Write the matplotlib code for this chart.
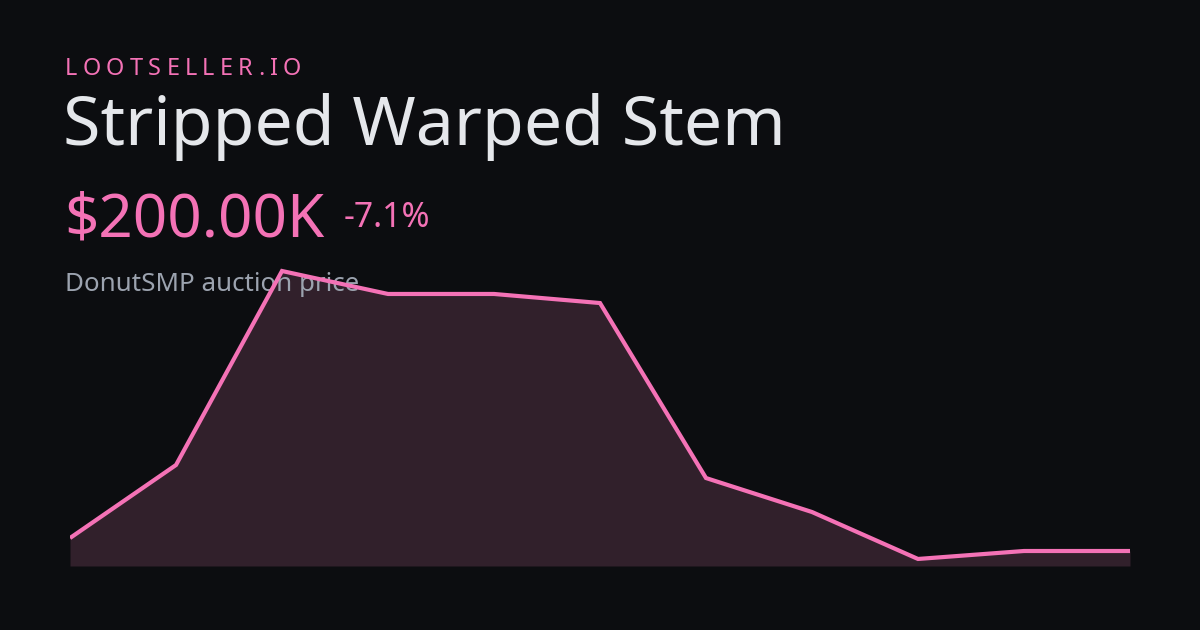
import matplotlib
matplotlib.use("Agg")
import matplotlib.pyplot as plt

plt.rcParams['font.family'] = ['Noto Sans', 'DejaVu Sans']

# price history (thousands of $), oldest -> newest
prices = [215.3, 301.5, 530.4, 503.3, 503.3, 492.6, 286.1, 246.0, 190.6, 200.0, 200.0]
days = list(range(len(prices)))

brand = "LOOTSELLER.IO"
item_name = "Stripped Warped Stem"
price_label = "$200.00K"
change_label = "-7.1%"
subtitle = "DonutSMP auction price"

BG = "#0c0d10"
PINK = "#f472b6"
FILL = "#31202b"

W, H = 1200, 630
fig = plt.figure(figsize=(W / 100, H / 100), dpi=100, facecolor=BG)

def px(n):
    return n * 72 / 100

def fx(x):
    return x / W

def fy(y):
    return 1 - y / H

# chart area
ax = fig.add_axes([fx(70), fy(566), fx(1060), 300 / H])
ax.set_facecolor("none")
ax.set_zorder(5)
ax.fill_between(days, prices, 182.3, color=FILL, linewidth=0, zorder=1)
ax.plot(days, prices, color=PINK, linewidth=3, solid_joinstyle="miter",
        solid_capstyle="butt", zorder=3)
ax.set_xlim(0, len(prices) - 1)
ax.set_ylim(182.3, 536.3)
ax.axis("off")

# subtitle sits between the fill and the line
ax.text(fx(65), fy(291), subtitle, color="#9ca3af", fontsize=px(25.9), va="baseline",
        transform=fig.transFigure, clip_on=False, zorder=2)

# brand with letter spacing
renderer = fig.canvas.get_renderer()
x = 65
for ch in brand:
    t = fig.text(fx(x), fy(75), ch, color=PINK, fontsize=px(23.5), va="baseline")
    w = t.get_window_extent(renderer).width
    x += w + 5.3

fig.text(fx(63), fy(145), item_name, color="#e5e7eb", fontsize=px(68.1), va="baseline")
fig.text(fx(64), fy(237), price_label, color=PINK, fontsize=px(60), va="baseline")
fig.text(fx(344), fy(227), change_label, color=PINK, fontsize=px(33.8), va="baseline")

fig.savefig("out.png", dpi=100, facecolor=BG)
